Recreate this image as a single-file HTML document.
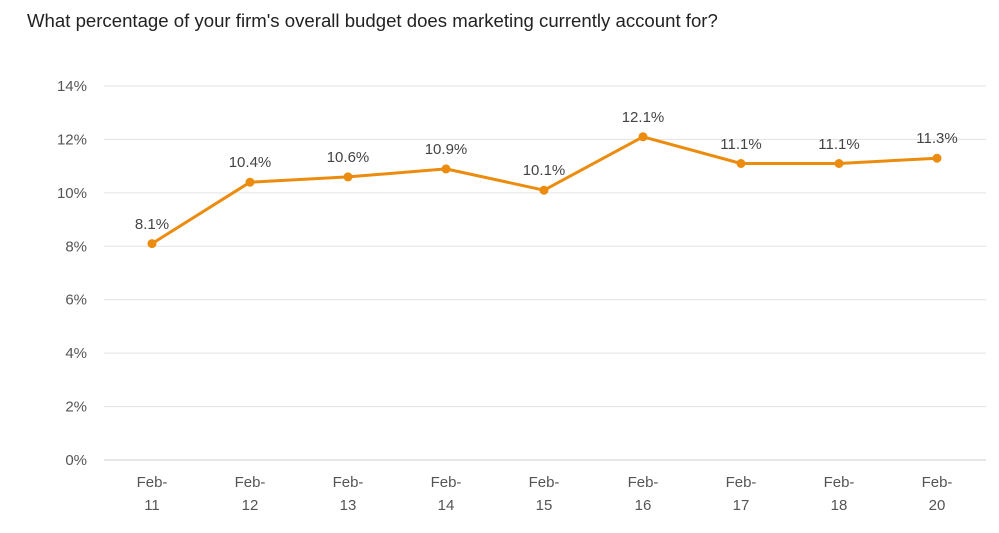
<!DOCTYPE html>
<html><head><meta charset="utf-8"><style>
html,body{margin:0;padding:0;background:#fff;}
svg{display:block;font-family:"Liberation Sans",Arial,sans-serif;}
</style></head><body>
<svg width="999" height="533" viewBox="0 0 999 533" xmlns="http://www.w3.org/2000/svg">
<text x="27" y="27" font-size="18.6" fill="#222">What percentage of your firm's overall budget does marketing currently account for?</text>
<g stroke="#e3e3e3" stroke-width="1">
<line x1="104" x2="986" y1="86" y2="86"/>
<line x1="104" x2="986" y1="139.4" y2="139.4"/>
<line x1="104" x2="986" y1="192.9" y2="192.9"/>
<line x1="104" x2="986" y1="246.3" y2="246.3"/>
<line x1="104" x2="986" y1="299.7" y2="299.7"/>
<line x1="104" x2="986" y1="353.1" y2="353.1"/>
<line x1="104" x2="986" y1="406.6" y2="406.6"/>
</g>
<line x1="104" x2="986" y1="460" y2="460" stroke="#cfcfcf"/>
<g font-size="15" fill="#555" text-anchor="end">
<text x="87" y="91">14%</text><text x="87" y="144.4">12%</text><text x="87" y="197.9">10%</text>
<text x="87" y="251.3">8%</text><text x="87" y="304.7">6%</text><text x="87" y="358.1">4%</text>
<text x="87" y="411.6">2%</text><text x="87" y="465">0%</text>
</g>
<g font-size="15" fill="#555" text-anchor="middle">
<text x="152" y="487">Feb-</text><text x="152" y="510">11</text>
<text x="250" y="487">Feb-</text><text x="250" y="510">12</text>
<text x="348" y="487">Feb-</text><text x="348" y="510">13</text>
<text x="446" y="487">Feb-</text><text x="446" y="510">14</text>
<text x="544" y="487">Feb-</text><text x="544" y="510">15</text>
<text x="643" y="487">Feb-</text><text x="643" y="510">16</text>
<text x="741" y="487">Feb-</text><text x="741" y="510">17</text>
<text x="839" y="487">Feb-</text><text x="839" y="510">18</text>
<text x="937" y="487">Feb-</text><text x="937" y="510">20</text>
</g>
<polyline fill="none" stroke="#ec8c0e" stroke-width="3" stroke-linejoin="round"
points="152,243.6 250,182.2 348,176.9 446,168.9 544,190.2 643,136.8 741,163.5 839,163.5 937,158.2"/>
<g fill="#ec8c0e">
<circle cx="152" cy="243.6" r="4.5"/><circle cx="250" cy="182.2" r="4.5"/><circle cx="348" cy="176.9" r="4.5"/>
<circle cx="446" cy="168.9" r="4.5"/><circle cx="544" cy="190.2" r="4.5"/><circle cx="643" cy="136.8" r="4.5"/>
<circle cx="741" cy="163.5" r="4.5"/><circle cx="839" cy="163.5" r="4.5"/><circle cx="937" cy="158.2" r="4.5"/>
</g>
<g font-size="15" fill="#444" text-anchor="middle">
<text x="152" y="229">8.1%</text><text x="250" y="167">10.4%</text><text x="348" y="162">10.6%</text>
<text x="446" y="154">10.9%</text><text x="544" y="175">10.1%</text><text x="643" y="122">12.1%</text>
<text x="741" y="149">11.1%</text><text x="839" y="149">11.1%</text><text x="937" y="143">11.3%</text>
</g>
</svg>
</body></html>
